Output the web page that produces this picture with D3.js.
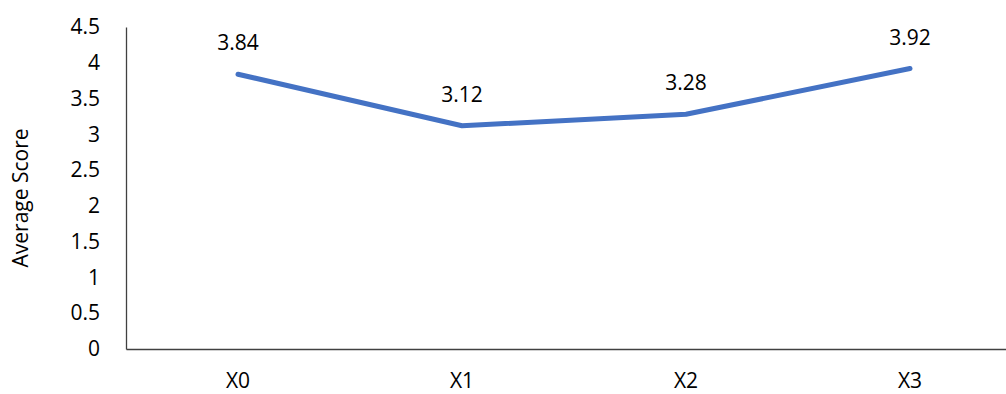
<!DOCTYPE html>
<html>
<head>
<meta charset="utf-8">
<script src="https://cdn.jsdelivr.net/npm/d3@7"></script>
<style>
  html, body { margin: 0; padding: 0; background: #fff; }
  svg { display: block; }
  text { font-family: "Open Sans", "Noto Sans", sans-serif; fill: #000; }
</style>
</head>
<body>
<svg id="chart" width="1006" height="394"></svg>
<script>
// Average score per group
const categories = ["X0", "X1", "X2", "X3"];
const scores = [3.84, 3.12, 3.28, 3.92];
const yTicks = [0, 0.5, 1, 1.5, 2, 2.5, 3, 3.5, 4, 4.5];

const width = 1006, height = 394;
const plot = { left: 126, right: 1022, top: 27, bottom: 349 };
const fontSize = 21;

const svg = d3.select("#chart");

const x = d3.scaleBand()
  .domain(categories)
  .range([plot.left, plot.right]);

const y = d3.scaleLinear()
  .domain([0, 4.5])
  .range([plot.bottom, plot.top]);

// Y axis: vertical line and tick labels only
const yAxis = svg.append("g")
  .attr("transform", `translate(${plot.left},0)`)
  .call(d3.axisLeft(y).tickValues(yTicks).tickSize(0).tickPadding(26)
    .tickFormat(d => String(d)));
yAxis.select(".domain").attr("stroke", "#404040").attr("stroke-width", 1.3);
yAxis.selectAll("text")
  .attr("font-size", fontSize)
  .attr("font-family", "\"Open Sans\", sans-serif")
  .attr("fill", "#000");

// X axis: baseline and category labels
const xAxis = svg.append("g")
  .attr("transform", `translate(0,${plot.bottom})`)
  .call(d3.axisBottom(x).tickSize(0).tickPadding(24));
xAxis.select(".domain").attr("stroke", "#404040").attr("stroke-width", 1.3);
xAxis.selectAll("text")
  .attr("font-size", fontSize)
  .attr("font-family", "\"Open Sans\", sans-serif")
  .attr("fill", "#000");

// Axis title
svg.append("text")
  .attr("transform", `translate(28,${(plot.top + plot.bottom) / 2 + 10}) rotate(-90)`)
  .attr("text-anchor", "middle")
  .attr("font-size", fontSize)
  .text("Average Score");

const cx = d => x(d) + x.bandwidth() / 2;
const data = categories.map((c, i) => ({ c, v: scores[i] }));

// Score line
svg.append("path")
  .datum(data)
  .attr("fill", "none")
  .attr("stroke", "#4472C4")
  .attr("stroke-width", 5)
  .attr("stroke-linecap", "round")
  .attr("stroke-linejoin", "round")
  .attr("d", d3.line().x(d => cx(d.c)).y(d => y(d.v)));

// Value labels above each point
svg.append("g")
  .selectAll("text")
  .data(data)
  .join("text")
  .attr("x", d => cx(d.c))
  .attr("y", d => y(d.v) - 24)
  .attr("text-anchor", "middle")
  .attr("font-size", fontSize)
  .text(d => d.v.toFixed(2));
</script>
</body>
</html>
